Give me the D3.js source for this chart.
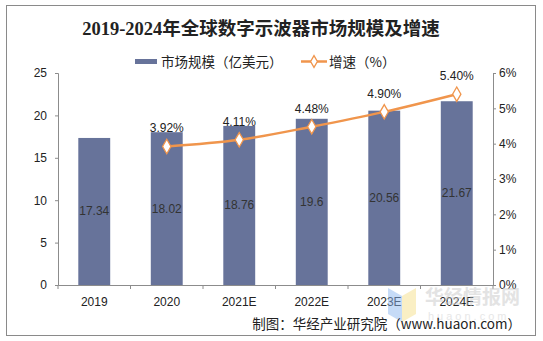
<!DOCTYPE html>
<html><head><meta charset="utf-8">
<script src="https://cdn.jsdelivr.net/npm/d3@7"></script>
<style>body{margin:0;background:#fff}svg{display:block}</style>
</head><body>
<svg id="c" width="543" height="341"></svg>
<script>
const categories = ["2019","2020","2021E","2022E","2023E","2024E"];
const marketSize = [17.34,18.02,18.76,19.6,20.56,21.67];
const growthYears = ["2020","2021E","2022E","2023E","2024E"];
const growthRate = [3.92,4.11,4.48,4.90,5.40];
const leftTicks = [0,5,10,15,20,25];
const rightTicks = [0,1,2,3,4,5,6];

const svg = d3.select("#c");
const sans = "'Liberation Sans', Arial, 'Noto Sans CJK SC', sans-serif";
const cjk = "'Noto Sans CJK SC', sans-serif";
svg.append("rect").attr("x",6.5).attr("y",5.5).attr("width",529).attr("height",330)
  .attr("fill","#fff").attr("stroke","#8a8a8a").attr("stroke-width",1);

const x0=58, x1=493, yTop=73, yBot=285;
const x = d3.scaleBand().domain(categories).range([x0,x1]).paddingInner(0.56).paddingOuter(0.28);
const yL = d3.scaleLinear().domain([0,25]).range([yBot,yTop]);
const yR = d3.scaleLinear().domain([0,6]).range([yBot,yTop]);
const barColor="#67739a", lineColor="#f0954c", axisColor="#8c8c8c";

// title
svg.append("text").attr("x",261).attr("y",35).attr("text-anchor","middle")
  .style("font-family","'Liberation Serif','Noto Sans CJK SC',serif").style("font-weight","bold")
  .style("font-size","18.5px").attr("fill","#222").text("2019-2024年全球数字示波器市场规模及增速");

// legend
svg.append("rect").attr("x",135).attr("y",59).attr("width",22).attr("height",5).attr("fill",barColor);
svg.append("text").attr("x",161).attr("y",66.5).style("font-family",cjk).style("font-size","13.5px").attr("fill","#222").text("市场规模（亿美元）");
svg.append("line").attr("x1",301).attr("x2",327).attr("y1",61.5).attr("y2",61.5).attr("stroke",lineColor).attr("stroke-width",2.5);
svg.append("path").attr("d",d3.symbol(d3.symbolDiamond,40)()).attr("transform","translate(314,61.5)")
  .attr("fill","#fff").attr("stroke",lineColor).attr("stroke-width",1.3);
svg.append("text").attr("x",329).attr("y",66.5).style("font-family",cjk).style("font-size","13.5px").attr("fill","#222").text("增速（%）");

// bars
svg.append("g").selectAll("rect").data(categories).join("rect")
  .attr("x",d=>x(d)).attr("width",x.bandwidth())
  .attr("y",(d,i)=>yL(marketSize[i])).attr("height",(d,i)=>yBot-yL(marketSize[i]))
  .attr("fill",barColor);
svg.append("g").selectAll("text").data(categories).join("text")
  .attr("x",d=>x(d)+x.bandwidth()/2).attr("y",(d,i)=>(yL(marketSize[i])+yBot)/2+4)
  .attr("text-anchor","middle").style("font-family",sans).style("font-size","12px").attr("fill","#333")
  .text((d,i)=>marketSize[i]);

// axes
const gL = svg.append("g").attr("transform",`translate(${x0},0)`)
  .call(d3.axisLeft(yL).tickValues(leftTicks).tickSize(3).tickPadding(8));
const gR = svg.append("g").attr("transform",`translate(${x1},0)`)
  .call(d3.axisRight(yR).tickValues(rightTicks).tickSize(3).tickPadding(3).tickFormat(d=>d+"%"));
const gB = svg.append("g").attr("transform",`translate(0,${yBot})`)
  .call(d3.axisBottom(x).tickSize(0).tickPadding(12));
const bounds = d3.range(categories.length+1).map(i=>x0+i*(x1-x0)/categories.length);
svg.append("g").selectAll("line").data(bounds).join("line")
  .attr("x1",d=>d).attr("x2",d=>d).attr("y1",yBot).attr("y2",yBot+4).attr("stroke",axisColor);
[gL,gR,gB].forEach(g=>{
  g.selectAll("path,line").attr("stroke",axisColor);
  g.selectAll("text").style("font-family",sans).style("font-size","12px").attr("fill","#222");
});

// line
const cx = d=>x(d)+x.bandwidth()/2;
const pts = growthYears.map((d,i)=>[cx(d),yR(growthRate[i])]);
svg.append("path").attr("d",d3.line().curve(d3.curveMonotoneX)(pts)).attr("fill","none")
  .attr("stroke",lineColor).attr("stroke-width",2.5);
svg.append("g").selectAll("path").data(pts).join("path")
  .attr("d",d3.symbol(d3.symbolDiamond,60)()).attr("transform",d=>`translate(${d[0]},${d[1]})`)
  .attr("fill","#fff").attr("stroke",lineColor).attr("stroke-width",1.3);
svg.append("g").selectAll("text").data(growthYears).join("text")
  .attr("x",d=>cx(d)).attr("y",(d,i)=>yR(growthRate[i])-14)
  .attr("text-anchor","middle").style("font-family",sans).style("font-size","12px").attr("fill","#222")
  .text((d,i)=>growthRate[i].toFixed(2)+"%");

// watermark
const wm = svg.append("g").attr("opacity",0.5);
wm.append("path").attr("d","M388,288 L402,296 L402,322 L388,314 Z").attr("fill","#8fb8f0");
wm.append("path").attr("d","M402,296 L416,288 L416,314 L402,322 Z").attr("fill","#f7e08a");
wm.append("text").attr("x",425).attr("y",304).style("font-family",cjk).style("font-weight","bold")
  .style("font-size","19px").attr("fill","#c8c8c8").text("华经情报网");
wm.append("text").attr("x",428).attr("y",320).style("font-family",sans)
  .style("font-size","11px").attr("letter-spacing","3px").attr("fill","#d0d0d0").text("huaon.com");

// source
svg.append("text").attr("x",521).attr("y",329).attr("text-anchor","end")
  .style("font-family",cjk).style("font-size","13.5px").attr("fill","#222")
  .text("制图：华经产业研究院（www.huaon.com）");
</script>
</body></html>
